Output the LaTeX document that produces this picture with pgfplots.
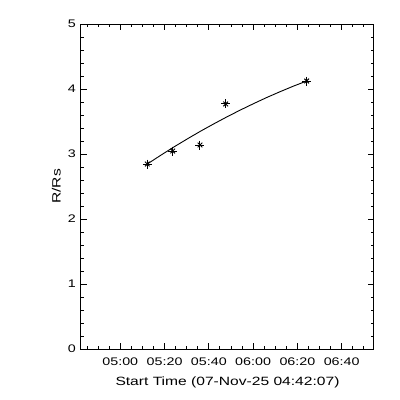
\documentclass[border=0pt]{standalone}
\usepackage{pgfplots}
\pgfplotsset{compat=1.18}
\usepackage{fontspec}
\setmainfont{Liberation Sans}
\newfontfamily\widefont[FakeStretch=1.3]{Liberation Sans}
\begin{document}
\fontsize{12pt}{14pt}\selectfont
\begin{tikzpicture}
\begin{axis}[
  scale only axis,
  width=293pt, height=325pt,
  at={(0,0)}, anchor=south west,
  xmin=282.25, xmax=414.6,
  ymin=0, ymax=5,
  xtick={300,320,340,360,380,400},
  xticklabels={05:00,05:20,05:40,06:00,06:20,06:40},
  minor xtick={285,290,295,305,310,315,325,330,335,345,350,355,365,370,375,385,390,395,405,410},
  ytick={0,1,2,3,4,5},
  minor ytick={0.2,0.4,0.6,0.8,1.2,1.4,1.6,1.8,2.2,2.4,2.6,2.8,3.2,3.4,3.6,3.8,4.2,4.4,4.6,4.8},
  tick align=inside,
  major tick length=6pt,
  minor tick length=3pt,
  tick style={black, line width=0.9pt},
  axis line style={line width=1pt},
  xlabel={Start Time (07-Nov-25 04:42:07)},
  ylabel={R/Rs},
  /pgf/number format/assume math mode=true,
  xticklabel style={yshift=-5pt},
  yticklabel style={xshift=-1pt},
  xlabel style={yshift=-3pt},
  ylabel style={yshift=-1pt},
  every axis label/.append style={font=\widefont\fontsize{12pt}{14pt}\selectfont},
  ticklabel style={font=\widefont\fontsize{11pt}{13pt}\selectfont},
]
\addplot[black, line width=0.9pt, mark=none] coordinates {
(312.2,2.846) (318.2,2.979) (324.2,3.108) (330.2,3.231) (336.2,3.350)
(342.2,3.463) (348.2,3.572) (354.2,3.676) (360.2,3.775) (366.2,3.870)
(372.2,3.959) (378.2,4.044) (384.2,4.123)
};
\addplot[only marks, mark=+, mark size=4.5pt, mark options={black, line width=1pt}] coordinates {
(312.2,2.846) (323.67,3.046) (336.0,3.138) (347.6,3.770) (384.2,4.123)
};
\addplot[only marks, mark=x, mark size=3.3pt, mark options={black, line width=1pt}] coordinates {
(312.2,2.846) (323.67,3.046) (336.0,3.138) (347.6,3.770) (384.2,4.123)
};
\end{axis}
\useasboundingbox (-81pt,-51pt) rectangle (319pt,349pt);
\end{tikzpicture}
\end{document}
